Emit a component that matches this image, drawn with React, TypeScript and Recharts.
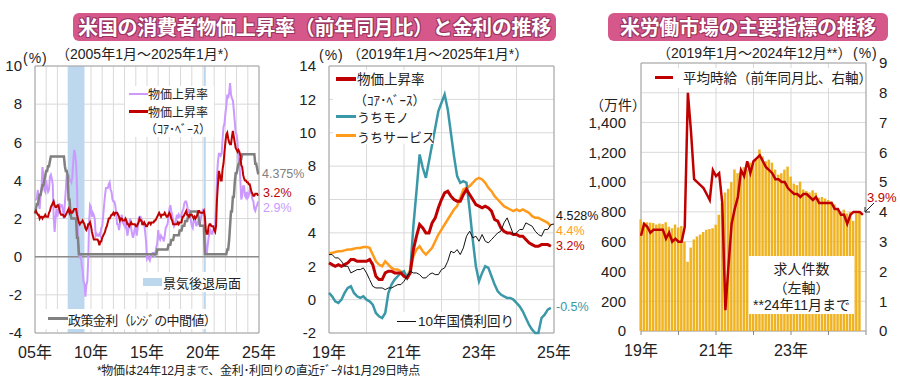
import React from 'react';
import {
  ComposedChart,
  Line,
  Bar,
  XAxis,
  YAxis,
  CartesianGrid,
  ReferenceArea,
  ReferenceLine,
} from 'recharts';

const FONT = "'Liberation Sans', 'Noto Sans CJK JP', sans-serif";
const JP = "'Noto Sans CJK JP', 'Liberation Sans', sans-serif";

// ---- panel 1: 2005/1 - 2024/12 (monthly, %)
const CPI_HEADLINE = [
  3.0, 3.0, 3.1, 3.5, 2.8, 2.5, 3.2, 3.6, 4.7, 4.3, 3.5, 3.4,
  4.0, 3.6, 3.4, 3.5, 4.2, 4.3, 4.1, 3.8, 2.1, 1.3, 2.0, 2.5,
  2.1, 2.4, 2.8, 2.6, 2.7, 2.7, 2.4, 2.0, 2.8, 3.5, 4.3, 4.1,
  4.3, 4.0, 4.0, 3.9, 4.2, 5.0, 5.6, 5.4, 4.9, 3.7, 1.1, 0.1,
  0.0, 0.2, -0.4, -0.7, -1.3, -1.4, -2.1, -1.5, -1.3, -0.2, 1.8, 2.7,
  2.6, 2.1, 2.3, 2.2, 2.0, 1.1, 1.2, 1.1, 1.1, 1.2, 1.1, 1.5,
  1.6, 2.1, 2.7, 3.2, 3.6, 3.6, 3.6, 3.8, 3.9, 3.5, 3.4, 3.0,
  2.9, 2.9, 2.7, 2.3, 1.7, 1.7, 1.4, 1.7, 2.0, 2.2, 1.8, 1.7,
  1.6, 2.0, 1.5, 1.1, 1.4, 1.8, 2.0, 1.5, 1.2, 1.0, 1.2, 1.5,
  1.6, 1.1, 1.5, 2.0, 2.1, 2.1, 2.0, 1.7, 1.7, 1.7, 1.3, 0.8,
  -0.1, 0.0, -0.1, -0.2, 0.0, 0.1, 0.2, 0.2, 0.0, 0.2, 0.5, 0.7,
  1.4, 1.0, 0.9, 1.1, 1.0, 1.0, 0.8, 1.1, 1.5, 1.6, 1.7, 2.1,
  2.5, 2.7, 2.4, 2.2, 1.9, 1.6, 1.7, 1.9, 2.2, 2.0, 2.2, 2.1,
  2.1, 2.2, 2.4, 2.5, 2.8, 2.9, 2.9, 2.7, 2.3, 2.5, 2.2, 1.9,
  1.6, 1.5, 1.9, 2.0, 1.8, 1.6, 1.8, 1.7, 1.7, 1.8, 2.1, 2.3,
  2.5, 2.3, 1.5, 0.3, 0.1, 0.6, 1.0, 1.3, 1.4, 1.2, 1.2, 1.4,
  1.4, 1.7, 2.6, 4.2, 5.0, 5.4, 5.4, 5.3, 5.4, 6.2, 6.8, 7.0,
  7.5, 7.9, 8.5, 8.3, 8.6, 9.1, 8.5, 8.3, 8.2, 7.7, 7.1, 6.5,
  6.4, 6.0, 5.0, 4.9, 4.0, 3.0, 3.2, 3.7, 3.7, 3.2, 3.1, 3.4,
  3.1, 3.2, 3.5, 3.4, 3.3, 3.0, 2.9, 2.5, 2.4, 2.6, 2.7, 2.9,
];

const CPI_CORE = [
  2.3, 2.4, 2.3, 2.2, 2.2, 2.0, 2.1, 2.1, 2.0, 2.1, 2.1, 2.2,
  2.1, 2.1, 2.1, 2.3, 2.4, 2.6, 2.7, 2.8, 2.9, 2.7, 2.6, 2.6,
  2.7, 2.7, 2.5, 2.3, 2.2, 2.2, 2.2, 2.1, 2.1, 2.2, 2.3, 2.4,
  2.5, 2.3, 2.4, 2.3, 2.3, 2.4, 2.5, 2.5, 2.5, 2.2, 2.0, 1.8,
  1.7, 1.8, 1.8, 1.9, 1.8, 1.7, 1.5, 1.4, 1.5, 1.7, 1.7, 1.8,
  1.6, 1.3, 1.1, 0.9, 0.9, 0.9, 0.9, 0.9, 0.8, 0.6, 0.8, 0.8,
  1.0, 1.1, 1.2, 1.3, 1.5, 1.6, 1.8, 2.0, 2.0, 2.1, 2.2, 2.2,
  2.3, 2.2, 2.3, 2.3, 2.3, 2.2, 2.1, 1.9, 2.0, 2.0, 1.9, 1.9,
  1.9, 2.0, 1.9, 1.7, 1.7, 1.6, 1.7, 1.8, 1.7, 1.7, 1.7, 1.7,
  1.6, 1.6, 1.7, 1.8, 2.0, 1.9, 1.9, 1.7, 1.7, 1.8, 1.7, 1.6,
  1.6, 1.7, 1.8, 1.8, 1.7, 1.8, 1.8, 1.8, 1.9, 1.9, 2.0, 2.1,
  2.2, 2.3, 2.2, 2.1, 2.2, 2.2, 2.2, 2.3, 2.2, 2.1, 2.1, 2.2,
  2.3, 2.2, 2.0, 1.9, 1.7, 1.7, 1.7, 1.7, 1.7, 1.8, 1.7, 1.8,
  1.8, 1.8, 2.1, 2.1, 2.2, 2.3, 2.4, 2.2, 2.2, 2.1, 2.2, 2.2,
  2.2, 2.1, 2.0, 2.1, 2.0, 2.1, 2.2, 2.4, 2.4, 2.3, 2.3, 2.3,
  2.3, 2.4, 2.1, 1.4, 1.2, 1.2, 1.6, 1.7, 1.7, 1.6, 1.6, 1.6,
  1.4, 1.3, 1.6, 3.0, 3.8, 4.5, 4.3, 4.0, 4.0, 4.6, 4.9, 5.5,
  6.0, 6.4, 6.5, 6.2, 6.0, 5.9, 5.9, 6.3, 6.6, 6.3, 6.0, 5.7,
  5.6, 5.5, 5.6, 5.5, 5.3, 4.8, 4.7, 4.3, 4.1, 4.0, 4.0, 3.9,
  3.9, 3.8, 3.8, 3.6, 3.4, 3.3, 3.2, 3.2, 3.3, 3.3, 3.3, 3.2,
];

// policy rate, mid of target range, 2005/1 - 2025/1
const POLICY_RATE = [
  2.25, 2.5, 2.75, 2.75, 3.0, 3.25, 3.25, 3.5, 3.75, 3.75, 4.0, 4.25,
  4.5, 4.5, 4.75, 4.75, 5.0, 5.25, 5.25, 5.25, 5.25, 5.25, 5.25, 5.25,
  5.25, 5.25, 5.25, 5.25, 5.25, 5.25, 5.25, 5.25, 4.75, 4.5, 4.5, 4.25,
  3.0, 3.0, 2.25, 2.0, 2.0, 2.0, 2.0, 2.0, 2.0, 1.0, 1.0, 0.125,
  0.125, 0.125, 0.125, 0.125, 0.125, 0.125, 0.125, 0.125, 0.125, 0.125, 0.125, 0.125,
  0.125, 0.125, 0.125, 0.125, 0.125, 0.125, 0.125, 0.125, 0.125, 0.125, 0.125, 0.125,
  0.125, 0.125, 0.125, 0.125, 0.125, 0.125, 0.125, 0.125, 0.125, 0.125, 0.125, 0.125,
  0.125, 0.125, 0.125, 0.125, 0.125, 0.125, 0.125, 0.125, 0.125, 0.125, 0.125, 0.125,
  0.125, 0.125, 0.125, 0.125, 0.125, 0.125, 0.125, 0.125, 0.125, 0.125, 0.125, 0.125,
  0.125, 0.125, 0.125, 0.125, 0.125, 0.125, 0.125, 0.125, 0.125, 0.125, 0.125, 0.125,
  0.125, 0.125, 0.125, 0.125, 0.125, 0.125, 0.125, 0.125, 0.125, 0.125, 0.125, 0.375,
  0.375, 0.375, 0.375, 0.375, 0.375, 0.375, 0.375, 0.375, 0.375, 0.375, 0.375, 0.625,
  0.625, 0.625, 0.875, 0.875, 0.875, 1.125, 1.125, 1.125, 1.125, 1.125, 1.125, 1.375,
  1.375, 1.375, 1.625, 1.625, 1.625, 1.875, 1.875, 1.875, 2.125, 2.125, 2.125, 2.375,
  2.375, 2.375, 2.375, 2.375, 2.375, 2.375, 2.375, 2.125, 1.875, 1.625, 1.625, 1.625,
  1.625, 1.625, 0.125, 0.125, 0.125, 0.125, 0.125, 0.125, 0.125, 0.125, 0.125, 0.125,
  0.125, 0.125, 0.125, 0.125, 0.125, 0.125, 0.125, 0.125, 0.125, 0.125, 0.125, 0.125,
  0.125, 0.125, 0.375, 0.375, 0.875, 1.625, 2.375, 2.375, 3.125, 3.125, 3.875, 4.375,
  4.375, 4.625, 4.875, 4.875, 5.125, 5.125, 5.375, 5.375, 5.375, 5.375, 5.375, 5.375,
  5.375, 5.375, 5.375, 5.375, 5.375, 5.375, 5.375, 5.375, 4.875, 4.875, 4.625, 4.375,
  4.375,
];

// recession periods as month index from 2005/1
const RECESSIONS = [
  [35, 53],
  [181, 183],
];

const P1_XTICKS = [0, 12, 24, 36, 48, 60, 72, 84, 96, 108, 120, 132, 144, 156, 168, 180, 192, 204, 216, 228, 240];
const P1_XLABELS: Record<number, string> = { 0: '05年', 60: '10年', 120: '15年', 180: '20年', 240: '25年' };
const P1_YTICKS = [-4, -2, 0, 2, 4, 6, 8, 10];

// ---- panel 2: 2019/1 - 2024/12 (10y yield to 2025/1)
const CORE_GOODS = [
  0.4, 0.2, -0.1, -0.2, 0.0, 0.4, 0.7, 0.8, 0.4, 0.2, 0.1, 0.2,
  0.0, -0.1, -0.3, -0.8, -1.0, -1.1, -0.8, 0.4, 0.9, 1.2, 1.4, 1.6,
  1.7, 1.3, 1.7, 4.4, 6.5, 8.7, 7.9, 7.3, 8.3, 9.3, 10.3, 11.3,
  11.8, 12.3, 11.4, 10.0, 8.6, 7.4, 7.0, 7.1, 7.0, 5.4, 3.6, 2.0,
  1.1, 1.6, 2.0, 1.9, 1.4, 0.9, 0.5, 0.3, 0.2, 0.1, 0.1, 0.0,
  -0.2, -0.4, -0.7, -1.1, -1.5, -1.8, -2.0, -2.0, -1.1, -0.9, -0.6, -0.5,
];

const CORE_SERVICES = [
  2.8, 2.8, 2.85, 2.9, 2.9, 2.95, 3.0, 3.0, 3.05, 3.1, 3.1, 3.15,
  3.15, 3.1, 2.7, 2.3, 2.1, 2.0, 2.3, 2.1, 1.9, 1.8, 1.8, 1.7,
  1.6, 1.4, 1.8, 2.6, 3.0, 3.2, 2.9, 2.7, 2.9, 3.1, 3.5, 3.9,
  4.2, 4.5, 4.8, 5.1, 5.4, 5.6, 6.1, 6.6, 6.7, 6.8, 7.0, 7.2,
  7.3, 7.2, 7.0, 6.7, 6.5, 6.2, 6.0, 5.8, 5.6, 5.5, 5.4, 5.3,
  5.4, 5.3, 5.4, 5.3, 5.2, 5.0, 4.9, 4.9, 4.8, 4.7, 4.6, 4.4,
];

const UST_10Y = [
  2.7, 2.7, 2.5, 2.5, 2.3, 2.0, 2.0, 1.6, 1.7, 1.8, 1.8, 1.9,
  1.6, 1.2, 0.8, 0.7, 0.7, 0.7, 0.6, 0.7, 0.7, 0.8, 0.9, 0.9,
  1.1, 1.4, 1.7, 1.6, 1.6, 1.5, 1.3, 1.3, 1.5, 1.6, 1.5, 1.5,
  1.8, 1.9, 2.3, 2.9, 2.8, 3.0, 2.7, 3.1, 3.8, 4.1, 3.7, 3.8,
  3.5, 3.9, 3.5, 3.4, 3.6, 3.8, 4.0, 4.1, 4.6, 4.9, 4.4, 3.9,
  4.0, 4.2, 4.2, 4.6, 4.5, 4.4, 4.1, 3.9, 3.8, 4.2, 4.2, 4.5,
  4.528,
];

const P2_XTICKS = [0, 12, 24, 36, 48, 60, 72];
const P2_XLABELS: Record<number, string> = { 0: '19年', 24: '21年', 48: '23年', 72: '25年' };
const P2_YTICKS = [-2, 0, 2, 4, 6, 8, 10, 12, 14];

// ---- panel 3: 2019/1 - 2024/12
const JOB_OPENINGS = [
  750, 728, 730, 728, 725, 715, 722, 718, 730, 700, 690, 715,
  695, 705, 600, 465, 560, 615, 635, 648, 665, 680, 685, 690,
  714, 781, 860, 930, 955, 1000, 1085, 1060, 1070, 1100, 1085, 1131,
  1130, 1151, 1219, 1172, 1140, 1151, 1131, 1084, 1050, 1060, 1084, 1104,
  1037, 990, 980, 1003, 950, 940, 930, 945, 929, 895, 900, 890,
  880, 870, 850, 820, 800, 815, 790, 800, 740, 790, 800,
];

const HOURLY_WAGE = [
  3.2, 3.6, 3.5, 3.3, 3.4, 3.4, 3.4, 3.4, 3.1, 3.3, 3.0, 3.1,
  3.0, 3.0, 3.5, 8.0, 6.7, 5.1, 5.0, 4.9, 4.8, 4.6, 4.4, 5.4,
  5.2, 5.3, 4.3, 0.7, 2.2, 3.6, 4.1, 4.5, 5.4, 5.2, 5.7, 5.3,
  5.7, 5.8, 5.9, 5.7, 5.5, 5.4, 5.3, 5.1, 5.1, 5.0, 5.0, 4.8,
  4.7, 4.6, 4.6, 4.5, 4.6, 4.6, 4.5, 4.4, 4.5, 4.3, 4.3, 4.3,
  4.3, 4.3, 4.1, 4.1, 3.9, 3.9, 3.6, 3.9, 4.0, 4.0, 4.0, 3.9,
];

const P3_XLABELS: Record<number, string> = { 0: '19年', 24: '21年', 48: '23年' };
const P3_LEFT_TICKS = [0, 200, 400, 600, 800, 1000, 1200, 1400];
const P3_RIGHT_TICKS = [0, 1, 2, 3, 4, 5, 6, 7, 8, 9];

const RED = '#C00000';
const LAVENDER = '#CC99FF';
const GRAY = '#808080';
const TEAL = '#3B98A8';
const ORANGE = '#FF9A1A';
const BAR = '#EFB322';
const GRID = '#D9D9D9';
const FRAME = '#A6A6A6';
const PINK = '#D6588A';

const p1Data = POLICY_RATE.map((r, i) => ({
  m: i,
  cpi: i < CPI_HEADLINE.length ? CPI_HEADLINE[i] : null,
  core: i < CPI_CORE.length ? CPI_CORE[i] : null,
  rate: r,
}));

const CORE_19 = CPI_CORE.slice(168);
const p2Data = UST_10Y.map((y, i) => ({
  m: i,
  core: i < CORE_19.length ? CORE_19[i] : null,
  goods: i < CORE_GOODS.length ? CORE_GOODS[i] : null,
  services: i < CORE_SERVICES.length ? CORE_SERVICES[i] : null,
  ust: y,
}));

const p3Data = HOURLY_WAGE.map((w, i) => ({
  m: i,
  jobs: i < JOB_OPENINGS.length ? JOB_OPENINGS[i] : null,
  wage: w,
}));

const yTick = { fontSize: 15, fill: '#222', fontFamily: FONT };
const xTick = { fontSize: 16, fill: '#222', fontFamily: FONT };

function Txt({ x, y, size = 13, color = '#222', children, style }: any) {
  return (
    <div
      style={{
        position: 'absolute',
        left: x,
        top: y,
        transform: 'translateY(-50%)',
        fontSize: size,
        color,
        lineHeight: 1,
        whiteSpace: 'nowrap',
        fontFamily: FONT,
        ...style,
      }}
    >
      {children}
    </div>
  );
}

function Box({ x, y, w, h, bg = '#fff' }: any) {
  return <div style={{ position: 'absolute', left: x, top: y, width: w, height: h, background: bg }} />;
}

function Title({ x, w, children }: any) {
  return (
    <div
      style={{
        position: 'absolute',
        left: x,
        top: 13,
        width: w,
        height: 28,
        background: PINK,
        borderRadius: 6,
        color: '#fff',
        fontFamily: JP,
        fontWeight: 700,
        fontSize: 20,
        lineHeight: '28px',
        textAlign: 'center',
        letterSpacing: -0.3,
        textShadow: '1px 1px 0 #9c3563, -1px -1px 0 #9c3563, 1px -1px 0 #9c3563, -1px 1px 0 #9c3563',
      }}
    >
      {children}
    </div>
  );
}

function InflationChart() {
  return (
    <ComposedChart width={300} height={390} data={p1Data} margin={{ top: 66, right: 41, bottom: 27, left: 0 }}>
      <CartesianGrid stroke={GRID} />
      {RECESSIONS.map(([a, b]) => (
        <ReferenceArea key={a} x1={a} x2={b} y1={-4} y2={10} fill="#BDD7EE" fillOpacity={1} stroke="none" />
      ))}
      <XAxis
        dataKey="m"
        type="number"
        domain={[0, 240]}
        ticks={P1_XTICKS}
        interval={0}
        tickFormatter={(v) => P1_XLABELS[v] ?? ''}
        tick={xTick}
        tickLine={false}
        axisLine={false}
        tickSize={0}
        tickMargin={14}
        height={30}
      />
      <YAxis
        type="number"
        domain={[-4, 10]}
        ticks={P1_YTICKS}
        interval={0}
        tick={yTick}
        tickLine={false}
        axisLine={false}
        tickSize={0}
        tickMargin={13}
        width={35}
      />
      <ReferenceLine y={0} stroke="#8C8C8C" strokeWidth={1.5} />
      <Line dataKey="cpi" stroke={LAVENDER} strokeWidth={2} dot={false} isAnimationActive={false} />
      <Line dataKey="rate" stroke={GRAY} strokeWidth={2.5} dot={false} isAnimationActive={false} />
      <Line dataKey="core" stroke={RED} strokeWidth={2} dot={false} isAnimationActive={false} />
      <ReferenceArea x1={0} x2={240} y1={-4} y2={10} fill="none" stroke={FRAME} />
    </ComposedChart>
  );
}

function BreakdownChart() {
  return (
    <ComposedChart width={280} height={390} data={p2Data} margin={{ top: 66, right: 16, bottom: 27, left: 0 }}>
      <CartesianGrid stroke={GRID} />
      <XAxis
        dataKey="m"
        type="number"
        domain={[0, 72]}
        ticks={P2_XTICKS}
        interval={0}
        tickFormatter={(v) => P2_XLABELS[v] ?? ''}
        tick={xTick}
        tickLine={false}
        axisLine={false}
        tickSize={0}
        tickMargin={14}
        height={30}
      />
      <YAxis
        type="number"
        domain={[-2, 14]}
        ticks={P2_YTICKS}
        interval={0}
        tick={yTick}
        tickLine={false}
        axisLine={false}
        tickSize={0}
        tickMargin={13}
        width={39}
      />
      <Line dataKey="services" stroke={ORANGE} strokeWidth={2.5} dot={false} isAnimationActive={false} />
      <Line dataKey="goods" stroke={TEAL} strokeWidth={2.5} dot={false} isAnimationActive={false} />
      <Line dataKey="core" stroke={RED} strokeWidth={3} dot={false} isAnimationActive={false} />
      <Line dataKey="ust" stroke="#111" strokeWidth={1} dot={false} isAnimationActive={false} />
      <ReferenceArea x1={0} x2={72} y1={-2} y2={14} fill="none" stroke={FRAME} />
    </ComposedChart>
  );
}

function LaborChart() {
  return (
    <ComposedChart width={320} height={390} data={p3Data} margin={{ top: 63, right: 0, bottom: 29, left: 0 }}>
      <CartesianGrid stroke={GRID} yAxisId="right" />
      <XAxis
        dataKey="m"
        type="number"
        domain={[0, 72]}
        ticks={P2_XTICKS}
        interval={0}
        tickFormatter={(v) => P3_XLABELS[v] ?? ''}
        tick={xTick}
        tickLine={{ stroke: '#888' }}
        axisLine={false}
        tickSize={4}
        tickMargin={10}
        height={30}
      />
      <YAxis
        yAxisId="left"
        type="number"
        domain={[0, 1800]}
        ticks={P3_LEFT_TICKS}
        interval={0}
        tickFormatter={(v) => v.toLocaleString('en-US')}
        tick={yTick}
        tickLine={false}
        axisLine={false}
        tickSize={0}
        tickMargin={15}
        width={61}
      />
      <YAxis
        yAxisId="right"
        orientation="right"
        type="number"
        domain={[0, 9]}
        ticks={P3_RIGHT_TICKS}
        interval={0}
        tick={yTick}
        tickLine={false}
        axisLine={false}
        tickSize={0}
        tickMargin={13}
        width={34}
      />
      <Bar yAxisId="left" dataKey="jobs" fill={BAR} barSize={2.5} isAnimationActive={false} />
      <Line yAxisId="right" dataKey="wage" stroke={RED} strokeWidth={2.5} dot={false} isAnimationActive={false} />
      <ReferenceArea yAxisId="right" x1={0} x2={72} y1={0} y2={9} fill="none" stroke={FRAME} />
    </ComposedChart>
  );
}

export default function App() {
  return (
    <div style={{ position: 'absolute', left: 0, top: 0, width: 900, height: 390, background: '#fff', fontFamily: FONT }}>
      <div style={{ position: 'absolute', left: 0, top: 0 }}>
        <InflationChart />
      </div>
      <div style={{ position: 'absolute', left: 290, top: 0 }}>
        <BreakdownChart />
      </div>
      <div style={{ position: 'absolute', left: 580, top: 0 }}>
        <LaborChart />
      </div>

      <Title x={73} w={483}>米国の消費者物価上昇率（前年同月比）と金利の推移</Title>
      <Title x={608} w={280}>米労働市場の主要指標の推移</Title>

      {/* panel 1 texts */}
      <Txt x={23} y={58} size={14} style={{ letterSpacing: 1 }}>(%)</Txt>
      <Txt x={56} y={54} size={14}>（2005年1月～2025年1月*）</Txt>
      <Box x={125} y={86} w={89} h={51} />
      <Box x={129} y={93} w={19} h={2} bg={LAVENDER} />
      <Txt x={148} y={94} size={12} style={{ fontFamily: JP }}>物価上昇率</Txt>
      <Box x={129} y={110} w={19} h={3} bg={RED} />
      <Txt x={148} y={111.5} size={12} style={{ fontFamily: JP }}>物価上昇率</Txt>
      <Txt x={145} y={129} size={12} style={{ fontFamily: JP }}>（ｺｱ･ﾍﾞｰｽ）</Txt>
      <Box x={140} y={272} w={100} h={20} />
      <Box x={143} y={278} w={19} h={8} bg="#BDD7EE" />
      <Txt x={163} y={282} size={13} style={{ fontFamily: JP }}>景気後退局面</Txt>
      <Box x={44} y={309} w={166} h={20} />
      <Box x={48} y={317} w={20} h={3} bg={GRAY} />
      <Txt x={68} y={319} size={13} style={{ fontFamily: JP, letterSpacing: -0.6 }}>政策金利（ﾚﾝｼﾞの中間値）</Txt>
      <Txt x={262} y={174} size={12.5} color={GRAY}>4.375%</Txt>
      <Txt x={263} y={193} size={12.5} color={RED}>3.2%</Txt>
      <Txt x={263} y={208} size={12.5} color={LAVENDER}>2.9%</Txt>

      {/* panel 2 texts */}
      <Txt x={319} y={55} size={14} style={{ letterSpacing: 1 }}>(%)</Txt>
      <Txt x={347} y={54} size={14}>（2019年1月～2025年1月*）</Txt>
      <Box x={333} y={70} w={100} h={74} />
      <Box x={336} y={77} w={20} h={4} bg={RED} />
      <Txt x={357} y={79} size={13.5} style={{ fontFamily: JP }}>物価上昇率</Txt>
      <Txt x={354} y={98.5} size={13} style={{ fontFamily: JP }}>（ｺｱ･ﾍﾞｰｽ）</Txt>
      <Box x={336} y={115} w={20} h={3} bg={TEAL} />
      <Txt x={357} y={116} size={13} style={{ fontFamily: JP }}>うちモノ</Txt>
      <Box x={336} y={134} w={20} h={3} bg={ORANGE} />
      <Txt x={357} y={135.5} size={13} style={{ fontFamily: JP }}>うちサービス</Txt>
      <Box x={392} y={312} w={123} h={20} />
      <Box x={397} y={321} w={19} h={1} bg="#111" />
      <Txt x={418} y={322} size={13.5}>10年国債利回り</Txt>
      <Txt x={556} y={215.5} size={12.5} color="#111">4.528%</Txt>
      <Txt x={556} y={230.5} size={12.5} color={ORANGE}>4.4%</Txt>
      <Txt x={556} y={246} size={12.5} color={RED}>3.2%</Txt>
      <Txt x={556} y={307} size={12.5} color={TEAL}>-0.5%</Txt>

      {/* panel 3 texts */}
      <Txt x={657} y={53} size={14}>（2019年1月～2024年12月**）</Txt>
      <Txt x={853} y={53} size={14} style={{ letterSpacing: 1 }}>(%)</Txt>
      <Txt x={590} y={105} size={14}>（万件）</Txt>
      <Box x={646} y={68} w={218} h={20} />
      <Box x={655} y={76} w={18} h={2.5} bg={RED} />
      <Txt x={683} y={78} size={13.5} style={{ fontFamily: JP }}>平均時給（前年同月比、右軸）</Txt>
      <Box x={749} y={256} w={105} h={58} />
      <Txt x={749} y={268} size={14} style={{ width: 105, textAlign: 'center', fontFamily: JP }}>求人件数</Txt>
      <Txt x={749} y={287} size={14} style={{ width: 105, textAlign: 'center', fontFamily: JP }}>（左軸）</Txt>
      <Txt x={749} y={305} size={14} style={{ width: 105, textAlign: 'center' }}>**24年11月まで</Txt>
      <Txt x={867} y={197} size={13} color={RED}>3.9%</Txt>
      <svg style={{ position: 'absolute', left: 862, top: 202, width: 14, height: 12 }} viewBox="0 0 14 12">
        <line x1="12" y1="1" x2="3" y2="10" stroke="#222" strokeWidth="1" />
        <polyline points="3,5 3,10 8,10" fill="none" stroke="#222" strokeWidth="1" />
      </svg>

      <Txt x={97} y={371} size={12} style={{ letterSpacing: -0.3 }}>*物価は24年12月まで、金利･利回りの直近ﾃﾞｰﾀは1月29日時点</Txt>
    </div>
  );
}
